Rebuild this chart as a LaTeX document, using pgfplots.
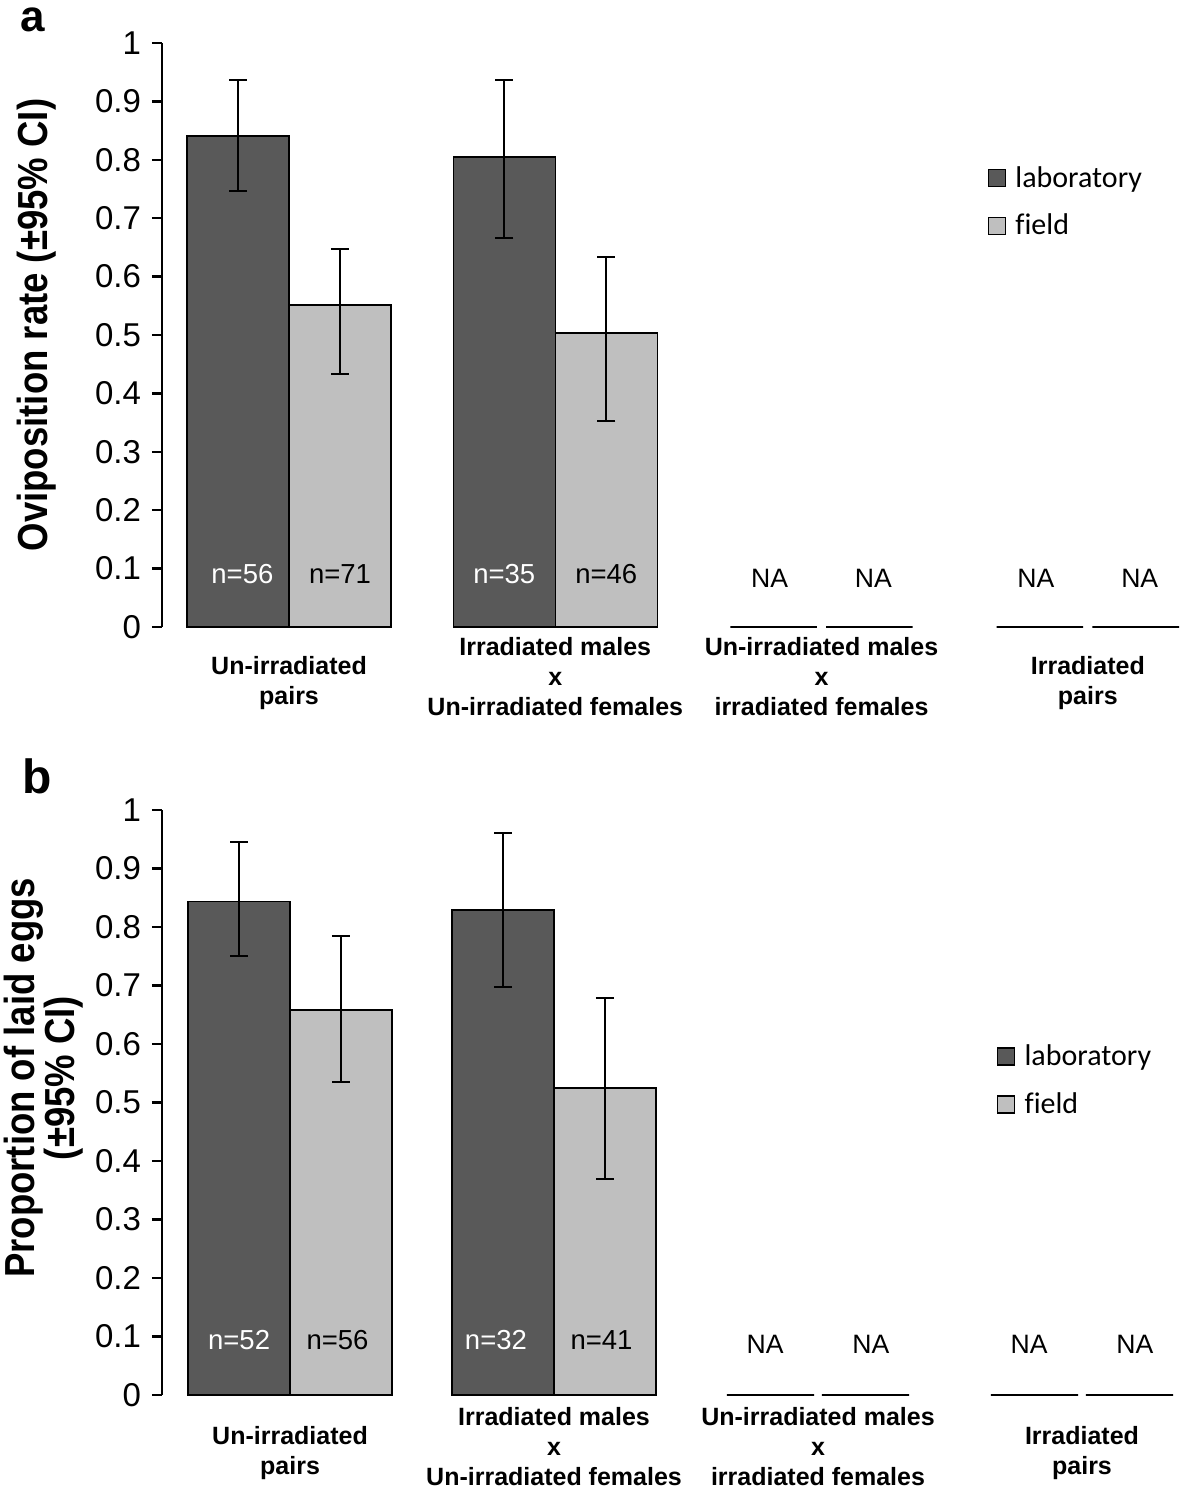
\documentclass[border=0pt]{standalone}
\usepackage{fontspec}
\setmainfont{Liberation Sans}
\newfontfamily\legfont[Ligatures=NoCommon]{Carlito}
\newfontfamily\ylabfont[FakeStretch=0.87]{Liberation Sans}
\usepackage{pgfplots}
\pgfplotsset{compat=1.18}
\definecolor{labgray}{RGB}{89,89,89}
\definecolor{fieldgray}{RGB}{191,191,191}

\pgfplotsset{
  panel/.style={
    scale only axis, width=509.5pt, height=292pt,
    ymin=0, ymax=1, clip=false,
    axis lines*=left,
    x axis line style={draw=none},
    y axis line style={line width=1.2pt, black},
    ytick={0,0.1,0.2,0.3,0.4,0.5,0.6,0.7,0.8,0.9,1},
    yticklabel style={font=\fontsize{16.5}{18}\selectfont,
      /pgf/number format/fixed, /pgf/number format/precision=1,
      /pgf/number format/assume math mode=true, xshift=-2pt},
    ytick style={line width=1.2pt, black},
    tick align=outside, major tick length=5pt,
    xtick={0,1,2,3}, xtick style={draw=none},
    xticklabel style={font=\fontsize{12.5}{15}\selectfont\bfseries, align=center,
      anchor=center, yshift=-20pt},
    xticklabels={{\rule{0pt}{15pt}Un-irradiated\\pairs},{Irradiated males\\x\\Un-irradiated females},
      {Un-irradiated males\\x\\irradiated females},{\rule{0pt}{15pt}Irradiated\\pairs}},
    ylabel style={font=\ylabfont\bfseries\fontsize{21}{20}\selectfont, anchor=center, align=center},
    ybar=0pt,
    legend style={draw=none, fill=none, font=\legfont\fontsize{15}{18}\selectfont,
      anchor=north west, legend cell align=left, row sep=10pt,
      nodes={inner sep=1pt}},
    legend image code/.code={\draw[#1,draw=black,line width=0.75pt] (0pt,-4.25pt) rectangle (8.5pt,4.25pt);
      \path[draw=none,fill=none] (0pt,0pt) -- (12.5pt,0pt);},
    error bars/error bar style={line width=1pt, black},
    error bars/error mark options={rotate=90, mark size=4.5pt, line width=1pt, black},
  },
  labbar/.style={fill=labgray, draw=black, line width=0.75pt},
  fieldbar/.style={fill=fieldgray, draw=black, line width=0.75pt},
  nabar/.style={draw=black, fill=none, line width=1pt, forget plot},
}

\begin{document}
\begin{tikzpicture}
\useasboundingbox (-81pt,-431pt) rectangle (509.5pt,313.5pt);

% panel a
\begin{axis}[panel, at={(0pt,0pt)}, anchor=south west,
  xmin=-0.477, xmax=3.35, bar width=0.383,
  ylabel={Oviposition rate (±95\% CI)},
  ylabel style={at={(axis description cs:-0.1227,0.517)}},
  legend style={at={(0.804,0.80)}}]
\addplot+[labbar, bar shift=-0.1915, error bars/.cd, y dir=both, y explicit]
  coordinates {(0,0.841) += (0,0.096) -= (0,0.094) (1,0.805) += (0,0.132) -= (0,0.139)};
\addlegendentry{laboratory}
\addplot+[fieldbar, bar shift=0.1915, error bars/.cd, y dir=both, y explicit]
  coordinates {(0,0.551) += (0,0.096) -= (0,0.118) (1,0.503) += (0,0.131) -= (0,0.150)};
\addlegendentry{field}
\addplot+[nabar, bar width=0.325, bar shift=-0.18] coordinates {(2,0) (3,0)};
\addplot+[nabar, bar width=0.325, bar shift=0.18] coordinates {(2,0) (3,0)};
\node[font=\fontsize{13.75}{16}\selectfont, white] at (axis cs:-0.175,0.091) {n=56};
\node[font=\fontsize{13.75}{16}\selectfont] at (axis cs:0.1915,0.091) {n=71};
\node[font=\fontsize{13.75}{16}\selectfont, white] at (axis cs:0.8085,0.091) {n=35};
\node[font=\fontsize{13.75}{16}\selectfont] at (axis cs:1.1915,0.091) {n=46};
\node[font=\fontsize{13.3}{16}\selectfont] at (axis cs:1.805,0.084) {NA};
\node[font=\fontsize{13.3}{16}\selectfont] at (axis cs:2.195,0.084) {NA};
\node[font=\fontsize{13.3}{16}\selectfont] at (axis cs:2.805,0.084) {NA};
\node[font=\fontsize{13.3}{16}\selectfont] at (axis cs:3.195,0.084) {NA};
\node[font=\bfseries\fontsize{22}{25}\selectfont, anchor=base west, inner sep=0pt] at (rel axis cs:-0.139,1.019) {a};
\end{axis}

% panel b
\begin{axis}[panel, at={(0pt,-384pt)}, anchor=south west, height=292.5pt,
  xmin=-0.485, xmax=3.375, bar width=0.386,
  ylabel={Proportion of laid eggs\\(±95\% CI)},
  ylabel style={at={(axis description cs:-0.1157,0.542)}},
  xticklabel style={yshift=-1pt},
  legend style={at={(0.813,0.61)}}]
\addplot+[labbar, bar shift=-0.193, error bars/.cd, y dir=both, y explicit]
  coordinates {(0,0.844) += (0,0.101) -= (0,0.094) (1,0.829) += (0,0.132) -= (0,0.132)};
\addlegendentry{laboratory}
\addplot+[fieldbar, bar shift=0.193, error bars/.cd, y dir=both, y explicit]
  coordinates {(0,0.658) += (0,0.127) -= (0,0.123) (1,0.525) += (0,0.154) -= (0,0.156)};
\addlegendentry{field}
\addplot+[nabar, bar width=0.33, bar shift=-0.18] coordinates {(2,0) (3,0)};
\addplot+[nabar, bar width=0.33, bar shift=0.18] coordinates {(2,0) (3,0)};
\node[font=\fontsize{13.75}{16}\selectfont, white] at (axis cs:-0.193,0.094) {n=52};
\node[font=\fontsize{13.75}{16}\selectfont] at (axis cs:0.18,0.094) {n=56};
\node[font=\fontsize{13.75}{16}\selectfont, white] at (axis cs:0.78,0.094) {n=32};
\node[font=\fontsize{13.75}{16}\selectfont] at (axis cs:1.18,0.094) {n=41};
\node[font=\fontsize{13.3}{16}\selectfont] at (axis cs:1.8,0.087) {NA};
\node[font=\fontsize{13.3}{16}\selectfont] at (axis cs:2.2,0.087) {NA};
\node[font=\fontsize{13.3}{16}\selectfont] at (axis cs:2.8,0.087) {NA};
\node[font=\fontsize{13.3}{16}\selectfont] at (axis cs:3.2,0.087) {NA};
\node[font=\bfseries\fontsize{24}{27}\selectfont, anchor=base west, inner sep=0pt] at (rel axis cs:-0.137,1.029) {b};
\end{axis}
\end{tikzpicture}
\end{document}
